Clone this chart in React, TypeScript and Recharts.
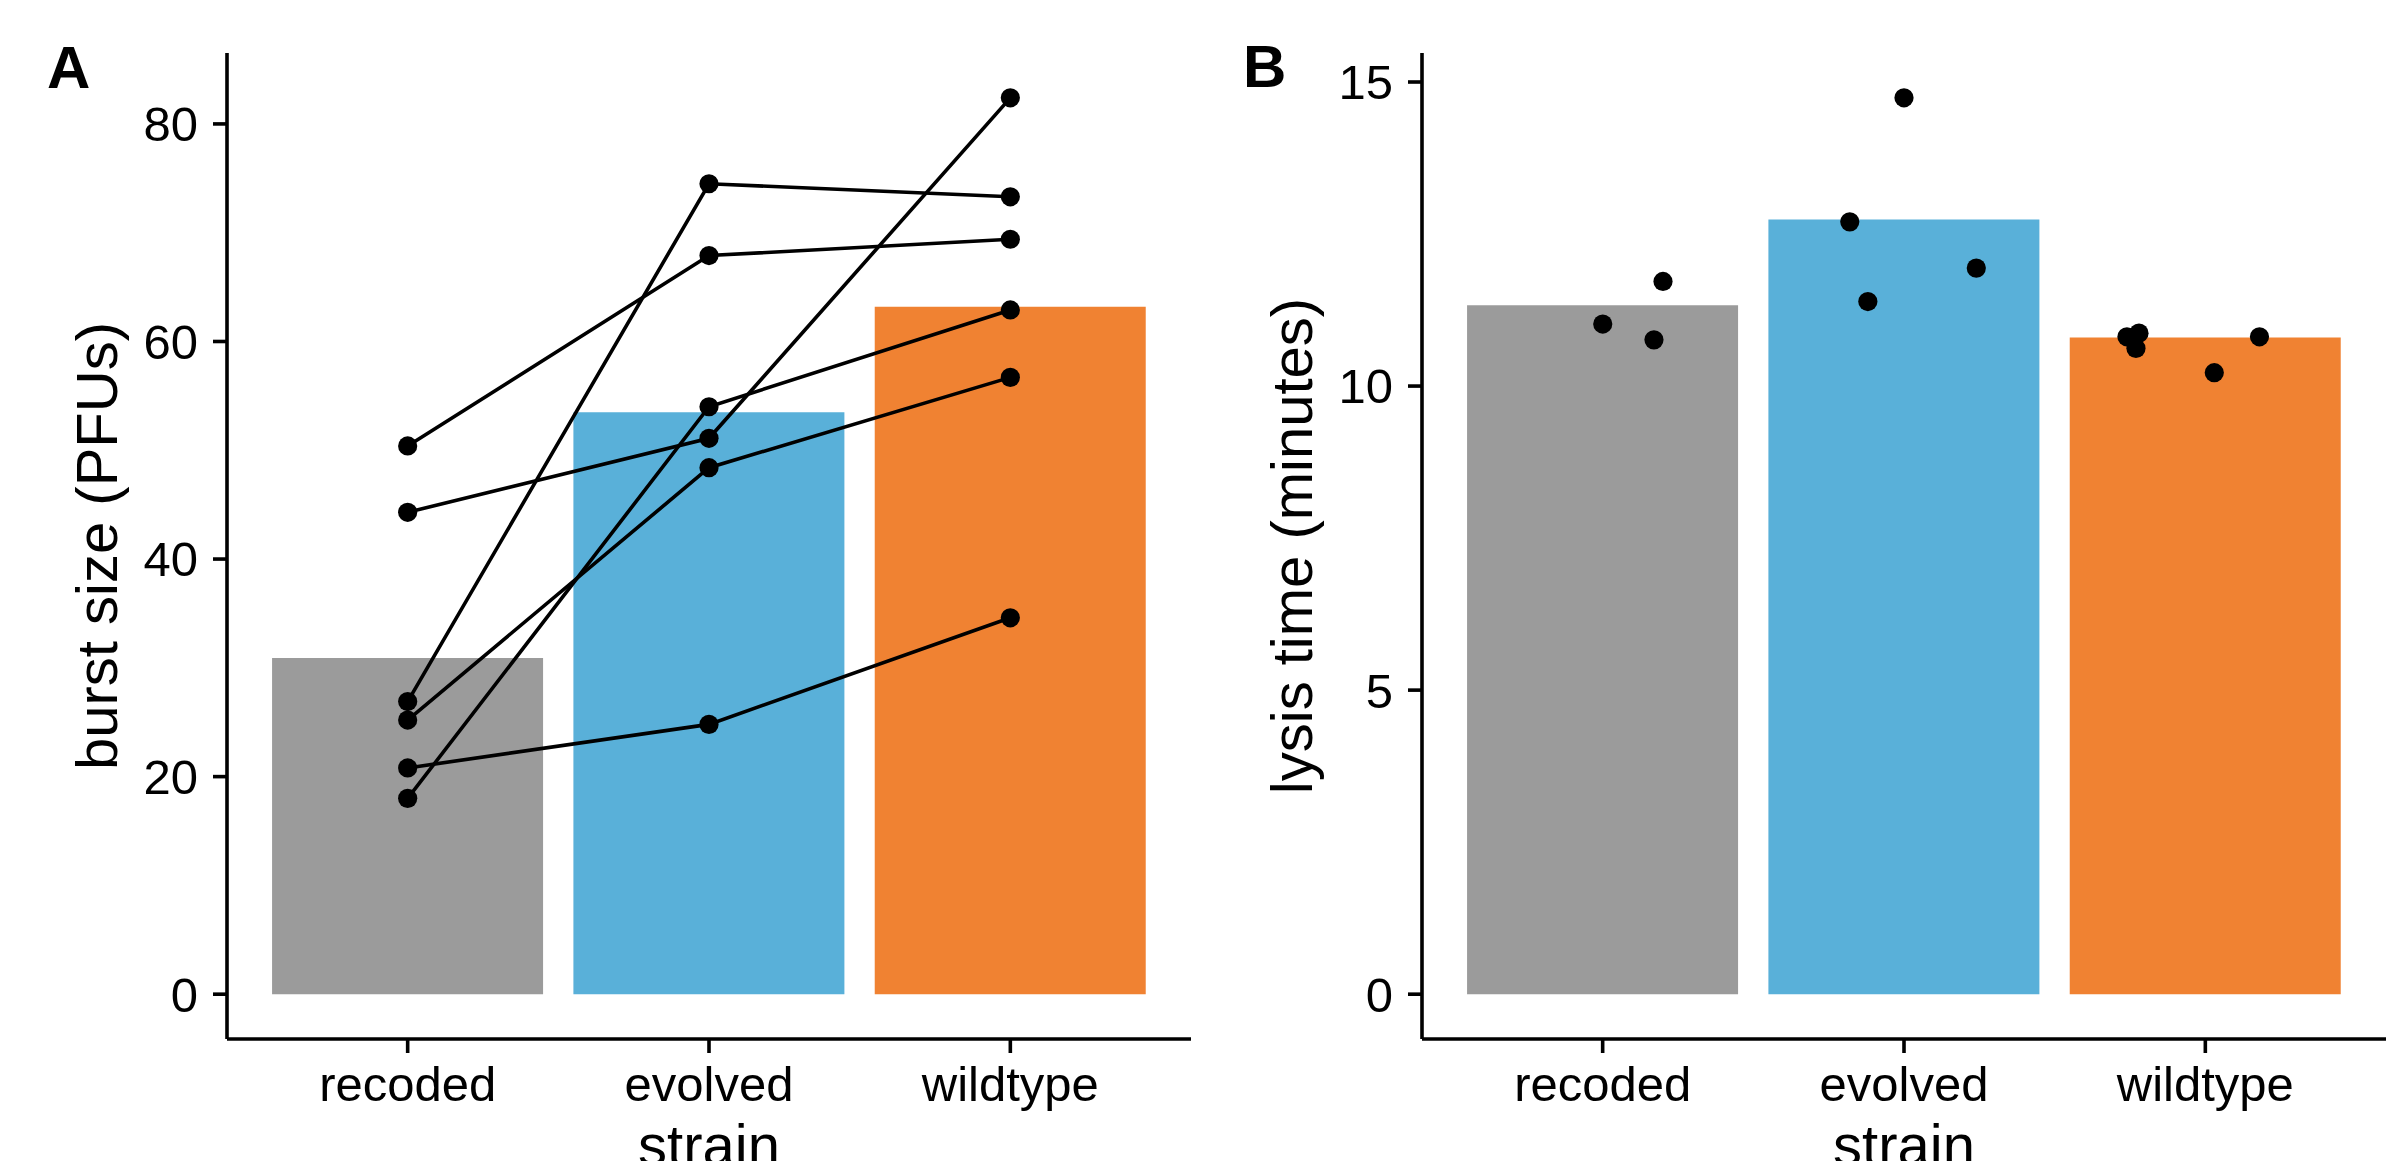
import React from 'react'
import { ComposedChart, Bar, Line, Scatter, XAxis, YAxis, Cell } from 'recharts'

const FONT = '"Liberation Sans", Arial, Helvetica, sans-serif'

const strains = ['recoded', 'evolved', 'wildtype']
const strainColors = ['#9b9b9b', '#59b0d9', '#f08232']

// A: burst size, bar = mean, one line per replicate [recoded, evolved, wildtype]
const burstMeans = [30.9, 53.5, 63.2]
const burstReplicates = [
  [50.4, 67.9, 69.4],
  [44.3, 51.1, 82.4],
  [26.9, 74.5, 73.3],
  [25.2, 48.4, 56.7],
  [20.8, 24.8, 34.6],
  [18.0, 54.0, 62.9],
]
const burstTicks = [0, 20, 40, 60, 80]

// B: lysis time, bar = mean, jittered points
const lysisMeans = [11.33, 12.74, 10.8]
const lysisRecoded = [11.02, 10.76, 11.72]
const lysisEvolved = [14.74, 12.7, 11.39, 11.94]
const lysisWildtype = [10.81, 10.87, 10.62, 10.22, 10.81]
// horizontal jitter, in category units
const jitterRecoded = [0, 0.17, 0.2]
const jitterEvolved = [0, -0.18, -0.12, 0.24]
const jitterWildtype = [-0.26, -0.22, -0.23, 0.03, 0.18]
const lysisTicks = [0, 5, 10, 15]

const burstData = strains.map((s, i) => {
  const row: any = { strain: s, mean: burstMeans[i] }
  burstReplicates.forEach((r, k) => { row['r' + k] = r[i] })
  return row
})
const lysisData = strains.map((s, i) => ({ strain: s, mean: lysisMeans[i] }))
const lysisPoints = [
  ...lysisRecoded.map((v, j) => ({ x: 1 + jitterRecoded[j], y: v })),
  ...lysisEvolved.map((v, j) => ({ x: 2 + jitterEvolved[j], y: v })),
  ...lysisWildtype.map((v, j) => ({ x: 3 + jitterWildtype[j], y: v })),
]

// ggplot-style 5% expansion
const expand = (max: number): [number, number] => [-0.05 * max, 1.05 * max]
const burstMax = Math.max(...burstReplicates.flat(), ...burstMeans)
const lysisMax = Math.max(...lysisRecoded, ...lysisEvolved, ...lysisWildtype, ...lysisMeans)

const AXIS = { stroke: '#000', strokeWidth: 3.6 }
const TICK = { fill: '#000', fontSize: 49, fontFamily: FONT }
const CHART_H = 1200
const PLOT_TOP = 53
const PLOT_W = 964
const Y_W = 227
const X_H = CHART_H - 1039
const DOT_R = 9.6

function YTitle({ viewBox, text }: any) {
  const cy = viewBox && viewBox.height ? viewBox.y + viewBox.height / 2 : 546
  const x = 117
  return (
    <text x={x} y={cy} transform={`rotate(-90 ${x} ${cy})`} textAnchor="middle"
      fontSize={58} fill="#000" fontFamily={FONT}>{text}</text>
  )
}

function XTitle({ viewBox, text }: any) {
  const cx = viewBox && viewBox.width ? viewBox.x + viewBox.width / 2 : Y_W + PLOT_W / 2
  return (
    <text x={cx} y={1165} textAnchor="middle" fontSize={58} fill="#000" fontFamily={FONT}>{text}</text>
  )
}

const dotShape = (p: any) => <circle cx={p.cx} cy={p.cy} r={DOT_R} fill="#000" />

function BurstChart() {
  return (
    <ComposedChart width={Y_W + PLOT_W + 9} height={CHART_H} data={burstData}
      margin={{ top: PLOT_TOP, right: 9, left: 0, bottom: 0 }} barCategoryGap="5%">
      <XAxis dataKey="strain" padding={{ left: 30, right: 30 }} height={X_H} interval={0}
        tickSize={14} tickMargin={13} axisLine={AXIS} tickLine={AXIS} tick={TICK}
        label={<XTitle text="strain" />} />
      <YAxis type="number" domain={expand(burstMax)} ticks={burstTicks} allowDataOverflow width={Y_W}
        tickSize={14} tickMargin={15} axisLine={AXIS} tickLine={AXIS} tick={TICK}
        label={<YTitle text="burst size (PFUs)" />} />
      <Bar dataKey="mean" isAnimationActive={false} stroke="none">
        {strains.map((s, i) => <Cell key={s} fill={strainColors[i]} />)}
      </Bar>
      {burstReplicates.map((_, k) => (
        <Line key={k} dataKey={'r' + k} type="linear" stroke="#000" strokeWidth={3.6}
          dot={{ r: DOT_R, fill: '#000', stroke: 'none' }} activeDot={false} isAnimationActive={false} />
      ))}
    </ComposedChart>
  )
}

function LysisChart() {
  return (
    <ComposedChart width={Y_W + PLOT_W + 6} height={CHART_H} data={lysisData}
      margin={{ top: PLOT_TOP, right: 6, left: 0, bottom: 0 }} barCategoryGap="5%">
      <XAxis dataKey="strain" padding={{ left: 30, right: 30 }} height={X_H} interval={0}
        tickSize={14} tickMargin={13} axisLine={AXIS} tickLine={AXIS} tick={TICK}
        label={<XTitle text="strain" />} />
      <XAxis xAxisId="num" type="number" dataKey="x" domain={[0.4, 3.6]} allowDataOverflow hide />
      <YAxis type="number" domain={expand(lysisMax)} ticks={lysisTicks} allowDataOverflow width={Y_W}
        tickSize={14} tickMargin={15} axisLine={AXIS} tickLine={AXIS} tick={TICK}
        label={<YTitle text="lysis time (minutes)" />} />
      <Bar dataKey="mean" isAnimationActive={false} stroke="none">
        {strains.map((s, i) => <Cell key={s} fill={strainColors[i]} />)}
      </Bar>
      <Scatter xAxisId="num" data={lysisPoints} dataKey="y" shape={dotShape} isAnimationActive={false} />
    </ComposedChart>
  )
}

export default function App() {
  return (
    <div style={{ position: 'absolute', left: 0, top: 0, width: 2392, height: 1161, overflow: 'hidden',
      background: '#fff', fontFamily: FONT }}>
      <div style={{ position: 'absolute', left: 0, top: 0 }}>
        <BurstChart />
      </div>
      <div style={{ position: 'absolute', left: 1195, top: 0 }}>
        <LysisChart />
      </div>
      <svg width={2392} height={1161} style={{ position: 'absolute', left: 0, top: 0, pointerEvents: 'none' }}>
        <text x={47} y={88} fontSize={60} fontWeight="bold" fontFamily={FONT} fill="#000">A</text>
        <text x={1243} y={87} fontSize={60} fontWeight="bold" fontFamily={FONT} fill="#000">B</text>
      </svg>
    </div>
  )
}
